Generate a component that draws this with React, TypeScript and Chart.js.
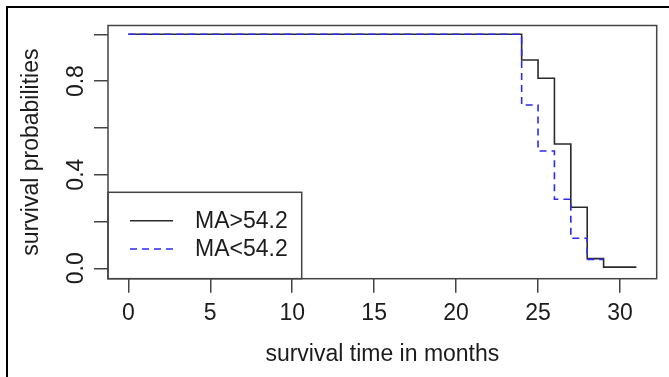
import React, { useEffect, useRef } from "react";
import { Chart, registerables } from "chart.js";

Chart.register(...registerables);

// Kaplan–Meier step data
const TIMES_HIGH = [0, 24, 25, 26, 27, 28, 29, 31];
const SURV_HIGH = [1, 0.89, 0.812, 0.531, 0.261, 0.041, 0.005, 0.005];
const TIMES_LOW = [0, 24, 25, 26, 27, 28, 29];
const SURV_LOW = [1, 0.698, 0.501, 0.295, 0.128, 0.038, 0.038];

const SERIES_LABELS = ["MA>54.2", "MA<54.2"];
const X_TICKS = [0, 5, 10, 15, 20, 25, 30];
const Y_TICKS = [0, 0.2, 0.4, 0.6, 0.8, 1.0];
const Y_TICK_LABELS = ["0.0", "", "0.4", "", "0.8", ""];

const FONT = "'Liberation Sans', Arial, Helvetica, sans-serif";
const TEXT = "#1c1c1c";
const FRAME = "#444";

const framePlugin = {
  id: "rframe",
  afterDatasetsDraw(chart: any) {
    const { ctx, chartArea } = chart;
    ctx.save();
    // legend (bottom-left, R style)
    const lx = chartArea.left;
    const ly = 192.3;
    const lw = 193.7;
    const lh = chartArea.bottom - ly;
    ctx.fillStyle = "#fff";
    ctx.fillRect(lx, ly, lw, lh);
    ctx.strokeStyle = FRAME;
    ctx.lineWidth = 1.5;
    ctx.strokeRect(lx, ly, lw, lh);
    const rows = [220.7, 249];
    chart.data.datasets.forEach((ds: any, i: number) => {
      const y = rows[i];
      ctx.beginPath();
      ctx.strokeStyle = ds.borderColor;
      ctx.lineWidth = ds.borderWidth;
      ctx.setLineDash(ds.borderDash || []);
      ctx.moveTo(lx + 22, y);
      ctx.lineTo(lx + 65, y);
      ctx.stroke();
      ctx.setLineDash([]);
      ctx.fillStyle = TEXT;
      ctx.font = `23px ${FONT}`;
      ctx.textBaseline = "middle";
      ctx.textAlign = "left";
      ctx.fillText(ds.label, lx + 87, y + 1);
    });
    // plot box
    ctx.strokeStyle = FRAME;
    ctx.lineWidth = 1.5;
    ctx.strokeRect(
      chartArea.left,
      chartArea.top,
      chartArea.right - chartArea.left,
      chartArea.bottom - chartArea.top
    );
    ctx.restore();
  },
};

export default function App() {
  const ref = useRef<HTMLCanvasElement>(null);
  useEffect(() => {
    if (!ref.current) return;
    const chart = new Chart(ref.current, {
      type: "line",
      data: {
        datasets: [
          {
            label: SERIES_LABELS[0],
            data: TIMES_HIGH.map((t, i) => ({ x: t, y: SURV_HIGH[i] })),
            borderColor: "#2a2a2a",
            borderWidth: 1.6,
            stepped: true,
            pointRadius: 0,
            fill: false,
            order: 1,
          },
          {
            label: SERIES_LABELS[1],
            data: TIMES_LOW.map((t, i) => ({ x: t, y: SURV_LOW[i] })),
            borderColor: "#2b2bf2",
            borderWidth: 1.6,
            borderDash: [7, 5],
            stepped: true,
            pointRadius: 0,
            fill: false,
            order: 0,
          },
        ],
      },
      options: {
        animation: false,
        responsive: false,
        devicePixelRatio: 1,
        layout: { padding: { left: 0, top: 25.5, right: 12.3, bottom: 0 } },
        plugins: {
          legend: { display: false },
          tooltip: { enabled: false },
        },
        scales: {
          x: {
            type: "linear",
            min: -1.24,
            max: 32.24,
            afterBuildTicks: (s: any) => {
              s.ticks = X_TICKS.map((v) => ({ value: v }));
            },
            afterFit: (s: any) => {
              s.height = 377 - 278.7;
            },
            grid: {
              drawOnChartArea: false,
              drawTicks: true,
              tickLength: 14,
              color: FRAME,
              lineWidth: 1.5,
            },
            border: { display: false },
            ticks: {
              autoSkip: false,
              maxRotation: 0,
              padding: 7,
              color: TEXT,
              font: { family: FONT, size: 23 },
              callback: (v: any) => String(v),
            },
            title: {
              display: true,
              text: "survival time in months",
              color: TEXT,
              font: { family: FONT, size: 23 },
              padding: { top: 0, bottom: 9 },
            },
          },
          y: {
            type: "linear",
            min: -0.0446,
            max: 1.0376,
            afterBuildTicks: (s: any) => {
              s.ticks = Y_TICKS.map((v) => ({ value: v }));
            },
            afterFit: (s: any) => {
              s.width = 108;
            },
            grid: {
              drawOnChartArea: false,
              drawTicks: true,
              tickLength: 14,
              color: FRAME,
              lineWidth: 1.5,
            },
            border: { display: false },
            ticks: {
              autoSkip: false,
              minRotation: 90,
              maxRotation: 90,
              crossAlign: "center",
              padding: 1,
              color: TEXT,
              font: { family: FONT, size: 23 },
              callback: (v: any, i: number) => {
                const k = Y_TICKS.indexOf(v);
                return k >= 0 ? Y_TICK_LABELS[k] : "";
              },
            },
            title: {
              display: true,
              text: "survival probabilities",
              color: TEXT,
              font: { family: FONT, size: 23 },
              padding: { top: 18, bottom: 0 },
            },
          },
        },
      },
      plugins: [framePlugin],
    } as any);
    return () => chart.destroy();
  }, []);

  return (
    <div>
      <canvas
        ref={ref}
        width={669}
        height={377}
        style={{ position: "fixed", left: 0, top: 0, width: 669, height: 377 }}
      />
      <div
        style={{
          position: "fixed",
          left: 6,
          top: 6,
          width: 700,
          height: 400,
          borderTop: "2px solid #000",
          borderLeft: "2px solid #000",
          pointerEvents: "none",
        }}
      />
    </div>
  );
}
